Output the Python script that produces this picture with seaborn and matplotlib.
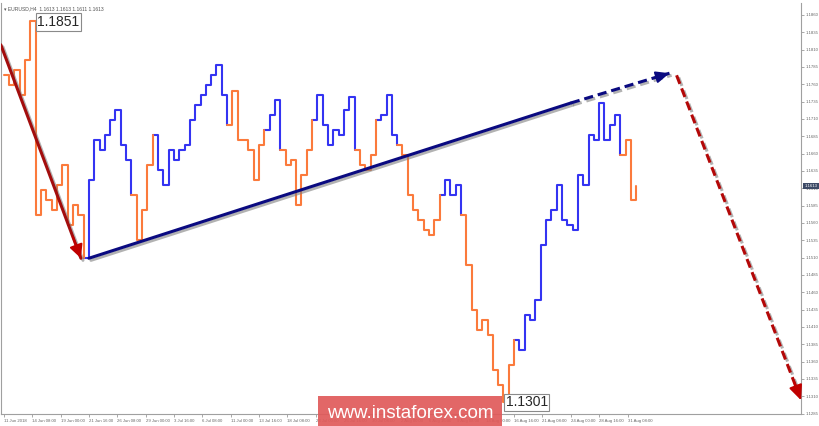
import numpy as np
import pandas as pd
import matplotlib
matplotlib.use("Agg")
import matplotlib.pyplot as plt
import matplotlib.patheffects as pe
import matplotlib.transforms as mtransforms
import seaborn as sns

# H4 closes, one value every 3 bars
closes = [1.1773, 1.1759, 1.1781, 1.1745, 1.1795, 1.1851, 1.1571, 1.1607, 1.1593, 1.1579,
          1.1615, 1.1644, 1.1557, 1.1586, 1.1571, 1.1509, 1.1622, 1.1680, 1.1665, 1.1687,
          1.1708, 1.1723, 1.1672, 1.1651, 1.1600, 1.1535, 1.1579, 1.1644, 1.1687, 1.1636,
          1.1615, 1.1665, 1.1651, 1.1665, 1.1672, 1.1708, 1.1730, 1.1745, 1.1759, 1.1773,
          1.1788, 1.1745, 1.1701, 1.1750, 1.1680, 1.1680, 1.1665, 1.1622, 1.1672, 1.1694,
          1.1716, 1.1737, 1.1665, 1.1644, 1.1651, 1.1586, 1.1629, 1.1665, 1.1708, 1.1745,
          1.1701, 1.1672, 1.1694, 1.1687, 1.1723, 1.1742, 1.1665, 1.1644, 1.1636, 1.1658,
          1.1708, 1.1716, 1.1745, 1.1687, 1.1672, 1.1658, 1.1600, 1.1579, 1.1564, 1.1550,
          1.1543, 1.1564, 1.1600, 1.1622, 1.1600, 1.1615, 1.1571, 1.1499, 1.1434, 1.1405,
          1.1420, 1.1398, 1.1348, 1.1326, 1.1301, 1.1355, 1.1391, 1.1377, 1.1427, 1.1420,
          1.1449, 1.1528, 1.1564, 1.1579, 1.1615, 1.1564, 1.1557, 1.1550, 1.1629, 1.1615,
          1.1687, 1.1680, 1.1733, 1.1680, 1.1701, 1.1716, 1.1658, 1.1680, 1.1593, 1.1613]
# trend colouring of the indicator: u = blue, d = orange
trend = ("u" + "d" * 15 + "u" * 9 + "d" * 4 + "u" * 14 + "d" * 7 + "u" * 3 + "d" * 6
         + "u" * 8 + "d" * 4 + "u" * 4 + "d" * 8 + "u" * 4 + "d" * 10 + "u" * 20 + "d" * 3)
bar_step = 3

time_labels = ["11 Jun 2018", "14 Jun 08:00", "19 Jun 00:00", "21 Jun 16:00", "26 Jun 08:00",
               "29 Jun 00:00", "3 Jul 16:00", "6 Jul 08:00", "11 Jul 00:00", "13 Jul 16:00",
               "18 Jul 08:00", "23 Jul 00:00", "25 Jul 16:00", "30 Jul 08:00", "2 Aug 00:00",
               "6 Aug 16:00", "9 Aug 08:00", "14 Aug 00:00", "16 Aug 16:00", "21 Aug 08:00",
               "24 Aug 00:00", "28 Aug 16:00", "31 Aug 08:00"]
bars_per_label = 16

price_ticks = [1.1285 + 0.0025 * k for k in range(24)]

# wave markup (bar, price)
wave_down = [(-1.7, 1.1817), (43.5, 1.1509)]
wave_up = [(48, 1.1509), (320, 1.1733), (375.7, 1.1776)]
wave_next = [(379.7, 1.1773), (450, 1.1304)]

header = "\u25be EURUSD,H4  1.1613 1.1613 1.1611 1.1613"

blue = "#3434f2"
orange = "#fb7a3c"

sns.set_style("white")
plt.rcParams["font.family"] = ["Liberation Sans", "DejaVu Sans"]

bars = [i * bar_step for i in range(len(closes))]
rows = []
run = 0
for i in range(len(closes)):
    if i > 0 and trend[i] != trend[i - 1]:
        run += 1
        rows.append((bars[i - 1], closes[i - 1], trend[i], run))
    rows.append((bars[i], closes[i], trend[i], run))
df = pd.DataFrame(rows, columns=["bar", "price", "trend", "run"])

fig = plt.figure(figsize=(8.2, 4.26), dpi=100)
ax = fig.add_axes([0.001, 0.028, 0.976, 0.965])

sns.lineplot(data=df, x="bar", y="price", hue="trend", units="run", estimator=None,
             sort=False, palette={"u": blue, "d": orange}, drawstyle="steps-post",
             linewidth=1.5, legend=False, ax=ax)

shadow = [pe.SimpleLineShadow(offset=(1.5, -1.5), shadow_color="gray", alpha=0.6), pe.Normal()]

# red first wave
(x0, y0), (x1, y1) = wave_down
ax.plot([x0, x1], [y0, y1], color="#a30d0d", lw=2.2, path_effects=shadow, zorder=5)
ax.annotate("", xy=(x1, y1), xytext=(x0 + (x1 - x0) * 0.9, y0 + (y1 - y0) * 0.9),
            arrowprops=dict(arrowstyle="-|>,head_length=0.8,head_width=0.4", color="#c00000",
                            lw=1.5, shrinkA=0, shrinkB=0), zorder=6)

# navy wave, solid then dashed projection
(x0, y0), (xm, ym), (x1, y1) = wave_up
ax.plot([x0, xm], [y0, ym], color="#0a0a80", lw=2.2, path_effects=shadow, zorder=5)
ax.plot([xm, x1], [ym, y1], color="#0a0a80", lw=2.2, ls=(0, (3, 1.6)), path_effects=shadow, zorder=5)
ax.annotate("", xy=(x1, y1), xytext=(x1 - 8, y1 - (y1 - ym) / (x1 - xm) * 8),
            arrowprops=dict(arrowstyle="-|>,head_length=0.8,head_width=0.35", color="#0a0a80",
                            lw=1.5, shrinkA=0, shrinkB=0), zorder=6)

# red dashed projection
(x0, y0), (x1, y1) = wave_next
ax.plot([x0, x1 - 2], [y0, y1 + (y0 - y1) * 2 / (x1 - x0)], color="#b40808", lw=2.2,
        ls=(0, (3, 1.6)), path_effects=shadow, zorder=5)
ax.annotate("", xy=(x1, y1), xytext=(x1 - 4, y1 + (y0 - y1) * 4 / (x1 - x0)),
            arrowprops=dict(arrowstyle="-|>,head_length=0.9,head_width=0.4", color="#c00000",
                            lw=1.5, shrinkA=0, shrinkB=0), zorder=6)

# extreme labels
box = dict(boxstyle="square,pad=0.12", fc="white", ec="#8a8a8a", lw=0.8)
ihi = int(np.argmax(closes))
ilo = int(np.argmin(closes))
ax.annotate(f"{closes[ihi]:.4f}", xy=(bars[ihi], closes[ihi]), xytext=(5, -0.5),
            textcoords="offset points", ha="left", va="center", fontsize=10, bbox=box, zorder=7)
ax.annotate(f"{closes[ilo]:.4f}", xy=(bars[ilo], closes[ilo]), xytext=(1.5, 0),
            textcoords="offset points", ha="left", va="center", fontsize=10, bbox=box, zorder=7)

ax.text(0.004, 0.992, header, transform=ax.transAxes, fontsize=3.6, color="#555555",
        ha="left", va="top")

# axes
n_bars = 450
ax.set_xlim(-1.7, n_bars)
ax.set_ylim(1.12842, 1.18773)
ax.set_xlabel("")
ax.set_ylabel("")
ax.set_xticks([k * bars_per_label for k in range(len(time_labels))])
ax.set_xticklabels(time_labels, ha="left")
ax.yaxis.tick_right()
ax.set_yticks(price_ticks)
ax.set_yticklabels([f"{p:.4f}" for p in price_ticks])
ax.tick_params(axis="both", labelsize=3.1, labelcolor="#666666", color="#9a9a9a",
               length=2.5, width=0.6, pad=1.0, direction="out")
ax.tick_params(axis="y", right=True, left=False)
ax.tick_params(axis="x", bottom=True)
for s in ["left", "right", "bottom"]:
    ax.spines[s].set_color("#a0a0a0")
    ax.spines[s].set_linewidth(0.8)
ax.spines["top"].set_visible(False)

# last price marker on the price scale
trans = mtransforms.blended_transform_factory(ax.transAxes, ax.transData)
ax.text(1.004, closes[-1], f"{closes[-1]:.4f}", transform=trans, fontsize=3.1, color="white",
        ha="left", va="center", bbox=dict(boxstyle="square,pad=0.3", fc="#3d4a66", ec="none"))

# watermark
fig.text(0.5, 0.03, "www.instaforex.com", fontsize=13.5, color="white", ha="center", va="center",
         bbox=dict(boxstyle="square,pad=0.45", fc="#e05a5a", ec="none", alpha=0.92), zorder=10)

fig.savefig("out.png", dpi=100)
